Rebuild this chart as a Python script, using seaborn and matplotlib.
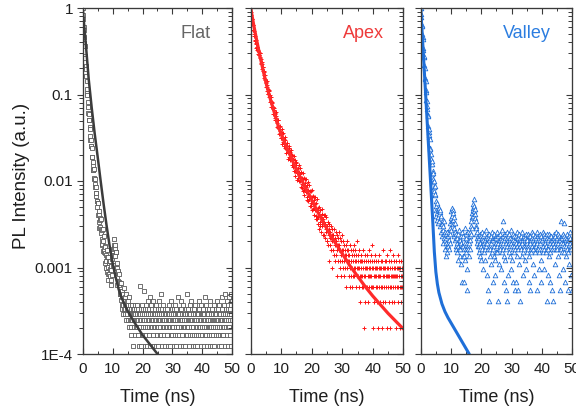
import numpy as np
import pandas as pd
import matplotlib
matplotlib.use("Agg")
import matplotlib.pyplot as plt
import matplotlib.ticker as mticker
import seaborn as sns

# ---------------- data ----------------
BIN_NS = 0.1  # width of one time channel (ns)

# Flat: early decay (log10 intensity, channels 0.0 .. 12.9 ns), then photon counts
flat_decay_log = [
    0.00, -0.08, -0.13, -0.22, -0.25, -0.34, -0.40, -0.44, -0.55, -0.58,
    -0.67, -0.70, -0.79, -0.84, -0.94, -0.98, -1.01, -1.09, -1.14, -1.21,
    -1.23, -1.30, -1.30, -1.38, -1.40, -1.48, -1.53, -1.53, -1.59, -1.60,
    -1.62, -1.72, -1.72, -1.82, -1.78, -1.87, -1.87, -1.86, -1.98, -1.96,
    -2.03, -1.98, -2.07, -2.07, -2.17, -2.14, -2.14, -2.23, -2.23, -2.30,
    -2.26, -2.39, -2.25, -2.39, -2.35, -2.47, -2.54, -2.43, -2.53, -2.45,
    -2.44, -2.60, -2.55, -2.74, -2.57, -2.73, -2.67, -2.56, -2.81, -2.69,
    -2.82, -2.64, -2.80, -2.75, -2.95, -2.83, -2.76, -2.93, -2.86, -3.01,
    -2.88, -3.05, -2.80, -2.99, -2.88, -3.07, -3.15, -2.95, -3.07, -2.92,
    -2.93, -3.10, -3.02, -3.20, -2.98, -3.14, -3.03, -2.85, -3.09, -2.90,
    -2.97, -2.79, -2.86, -2.78, -2.87, -2.74, -2.67, -2.78, -2.74, -2.87,
    -2.82, -3.00, -2.82, -3.00, -2.95, -3.11, -3.20, -3.05, -3.16, -3.04,
    -3.07, -3.20, -3.17, -3.31, -3.18, -3.31, -3.27, -3.18, -3.38, -3.29,
]
flat_tail_counts = [
    11, 8, 13, 9, 7, 12, 9, 10, 8, 14,
    9, 7, 11, 8, 12, 6, 9, 8, 10, 7,
    8, 10, 6, 9, 5, 8, 11, 7, 9, 6,
    6, 8, 5, 4, 7, 9, 6, 3, 8, 7,
    8, 5, 7, 6, 9, 4, 7, 6, 5, 8,
    6, 7, 5, 9, 6, 4, 8, 3, 7, 5,
    7, 6, 15, 5, 8, 3, 6, 4, 9, 7,
    5, 8, 6, 4, 7, 13, 6, 3, 8, 5,
    6, 9, 4, 7, 5, 8, 3, 6, 7, 10,
    4, 6, 8, 5, 11, 7, 3, 6, 9, 5,
    7, 5, 6, 8, 4, 10, 6, 7, 3, 5,
    8, 6, 5, 7, 3, 9, 6, 4, 7, 5,
    6, 3, 8, 5, 7, 6, 10, 4, 6, 8,
    5, 7, 4, 12, 6, 8, 3, 5, 7, 6,
    9, 5, 6, 4, 7, 3, 8, 6, 5, 7,
    6, 4, 8, 5, 6, 7, 3, 9, 5, 6,
    7, 5, 3, 6, 10, 4, 7, 5, 8, 6,
    4, 6, 7, 5, 3, 8, 6, 7, 4, 9,
    6, 5, 8, 3, 7, 6, 4, 11, 5, 7,
    5, 7, 4, 6, 8, 3, 6, 5, 10, 6,
    8, 4, 6, 7, 5, 9, 3, 6, 7, 5,
    6, 7, 3, 5, 8, 4, 6, 12, 5, 7,
    4, 6, 8, 5, 3, 7, 6, 9, 4, 6,
    7, 5, 6, 10, 4, 6, 8, 3, 5, 7,
    5, 8, 4, 6, 7, 3, 9, 6, 5, 4,
    6, 3, 7, 5, 8, 6, 4, 7, 10, 5,
    8, 6, 5, 4, 7, 3, 6, 9, 5, 7,
    4, 7, 6, 8, 3, 5, 7, 6, 4, 11,
    6, 5, 9, 4, 6, 7, 3, 8, 5, 6,
    7, 4, 5, 8, 6, 3, 10, 5, 7, 4,
    5, 8, 6, 3, 7, 5, 4, 6, 9, 6,
    3, 6, 7, 5, 8, 4, 6, 7, 5, 10,
    6, 4, 8, 6, 3, 7, 5, 9, 4, 6,
    7, 5, 3, 6, 8, 11, 4, 6, 5, 7,
    4, 9, 6, 5, 7, 3, 12, 6, 8, 5,
    6, 7, 4, 10, 5, 8, 3, 6, 11, 7,
    5, 8, 6, 4, 12, 7, 3, 9, 6, 10,
]
flat_count_unit = 4.1e-5
flat_fit_t = [0, 1, 2, 3, 4, 5, 6, 7, 8, 9, 10, 11, 12, 13, 15, 17, 20, 22.5, 25]
flat_fit_log = [0, -0.40, -0.82, -1.15, -1.45, -1.72, -2.00, -2.27, -2.52, -2.75,
                -2.95, -3.11, -3.25, -3.35, -3.50, -3.62, -3.78, -3.89, -4.00]

# Apex
apex_decay_log = [
    0.00, -0.05, -0.08, -0.13, -0.13, -0.19, -0.20, -0.20, -0.26, -0.25,
    -0.30, -0.27, -0.32, -0.32, -0.38, -0.37, -0.37, -0.42, -0.41, -0.46,
    -0.45, -0.49, -0.45, -0.50, -0.48, -0.53, -0.54, -0.51, -0.54, -0.52,
    -0.52, -0.58, -0.57, -0.64, -0.59, -0.65, -0.65, -0.62, -0.71, -0.68,
    -0.73, -0.68, -0.74, -0.73, -0.81, -0.78, -0.77, -0.83, -0.82, -0.87,
    -0.85, -0.91, -0.84, -0.91, -0.89, -0.96, -0.99, -0.94, -0.99, -0.95,
    -0.96, -1.03, -1.01, -1.09, -1.03, -1.09, -1.07, -1.03, -1.14, -1.10,
    -1.15, -1.09, -1.15, -1.14, -1.22, -1.18, -1.16, -1.22, -1.21, -1.27,
    -1.22, -1.30, -1.20, -1.29, -1.25, -1.33, -1.37, -1.30, -1.36, -1.30,
    -1.30, -1.39, -1.37, -1.46, -1.37, -1.45, -1.42, -1.36, -1.50, -1.43,
    -1.50, -1.40, -1.49, -1.46, -1.57, -1.50, -1.45, -1.55, -1.51, -1.60,
    -1.53, -1.62, -1.49, -1.59, -1.53, -1.63, -1.68, -1.58, -1.63, -1.56,
    -1.56, -1.67, -1.63, -1.74, -1.62, -1.72, -1.68, -1.60, -1.76, -1.67,
    -1.75, -1.64, -1.74, -1.69, -1.82, -1.74, -1.70, -1.81, -1.75, -1.84,
    -1.76, -1.88, -1.71, -1.83, -1.76, -1.88, -1.94, -1.81, -1.88, -1.78,
    -1.79, -1.91, -1.86, -1.99, -1.85, -1.96, -1.91, -1.82, -2.00, -1.90,
    -2.00, -1.85, -1.96, -1.92, -2.07, -1.96, -1.90, -2.03, -1.97, -2.08,
    -1.98, -2.11, -1.91, -2.05, -1.97, -2.10, -2.16, -2.02, -2.09, -1.98,
    -1.98, -2.13, -2.07, -2.22, -2.05, -2.18, -2.12, -2.01, -2.23, -2.10,
    -2.21, -2.05, -2.17, -2.12, -2.29, -2.17, -2.11, -2.25, -2.18, -2.29,
    -2.18, -2.33, -2.10, -2.27, -2.17, -2.32, -2.39, -2.22, -2.31, -2.18,
    -2.19, -2.34, -2.27, -2.44, -2.26, -2.40, -2.33, -2.21, -2.44, -2.31,
]
apex_tail_counts = [
    22, 16, 19, 25, 14, 20, 17, 23, 15, 19,
    13, 19, 16, 21, 15, 24, 17, 12, 18, 20,
    17, 12, 15, 20, 11, 16, 14, 19, 13, 10,
    15, 10, 13, 17, 9, 12, 14, 6, 16, 11,
    9, 13, 11, 15, 8, 12, 5, 10, 14, 12,
    12, 8, 10, 14, 7, 11, 9, 6, 13, 10,
    7, 10, 4, 12, 8, 9, 11, 6, 13, 8,
    9, 6, 11, 8, 5, 10, 7, 4, 8, 12,
    6, 8, 5, 10, 7, 4, 9, 6, 8, 7,
    5, 9, 7, 3, 8, 6, 10, 5, 7, 6,
    8, 4, 6, 7, 3, 9, 5, 6, 8, 4,
    6, 7, 5, 3, 8, 6, 4, 9, 5, 7,
    4, 6, 8, 5, 7, 3, 6, 5, 10, 4,
    5, 7, 4, 6, 3, 5, 8, 4, 6, 2,
    6, 4, 5, 7, 3, 6, 4, 8, 5, 3,
    4, 1, 6, 5, 2, 7, 4, 3, 5, 6,
    5, 3, 7, 4, 2, 6, 5, 4, 8, 3,
    6, 4, 5, 3, 7, 4, 6, 5, 3, 9,
    3, 5, 1, 6, 4, 2, 5, 7, 4, 3,
    5, 4, 6, 2, 5, 3, 1, 4, 6, 5,
    4, 7, 3, 5, 2, 4, 6, 3, 5, 1,
    6, 3, 5, 4, 8, 2, 4, 5, 3, 6,
    2, 5, 4, 6, 3, 1, 5, 7, 4, 3,
    5, 4, 2, 6, 4, 5, 3, 8, 1, 4,
    3, 6, 4, 5, 2, 4, 7, 3, 5, 4,
    6, 2, 5, 3, 4, 1, 6, 4, 5, 3,
    4, 5, 3, 7, 2, 5, 4, 6, 3, 1,
    5, 3, 6, 4, 2, 5, 4, 3, 6, 4,
]
apex_count_unit = 2.0e-4
apex_fit_t = [0, 1, 2, 3, 4, 5, 6, 7, 8, 9, 10, 12, 14, 16, 18, 20, 22, 24, 26,
              28, 30, 32.5, 35, 37.5, 40, 42.5, 45, 47.5, 50]
apex_fit_log = [0, -0.20, -0.38, -0.55, -0.71, -0.86, -1.00, -1.12, -1.24, -1.36,
                -1.46, -1.63, -1.79, -1.94, -2.08, -2.22, -2.36, -2.49, -2.62,
                -2.73, -2.84, -2.98, -3.10, -3.22, -3.33, -3.43, -3.53, -3.62, -3.71]

# Valley
valley_decay_log = [
    0.00, -0.07, -0.10, -0.20, -0.21, -0.30, -0.33, -0.36, -0.46, -0.49,
    -0.57, -0.56, -0.66, -0.69, -0.81, -0.82, -0.84, -0.95, -0.97, -1.06,
    -1.07, -1.17, -1.13, -1.24, -1.25, -1.36, -1.43, -1.40, -1.49, -1.47,
    -1.51, -1.62, -1.63, -1.74, -1.69, -1.80, -1.80, -1.77, -1.92, -1.88,
    -1.98, -1.91, -2.01, -2.00, -2.12, -2.07, -2.06, -2.16, -2.15, -2.23,
]
valley_tail_counts = [
    38, 29, 34, 26, 41, 31, 24, 35, 28, 33,
    30, 36, 25, 32, 22, 34, 27, 19, 29, 24,
    23, 17, 26, 20, 14, 22, 18, 25, 16, 19,
    15, 12, 18, 14, 10, 16, 13, 19, 11, 14,
    13, 17, 12, 15, 19, 14, 21, 18, 24, 20,
    27, 33, 25, 36, 29, 34, 26, 31, 23, 28,
    21, 17, 24, 15, 19, 13, 18, 12, 16, 14,
    11, 16, 13, 18, 9, 15, 12, 20, 14, 10,
    15, 12, 17, 8, 14, 19, 5, 13, 16, 10,
    13, 17, 10, 5, 12, 21, 14, 9, 16, 12,
    18, 11, 14, 7, 4, 13, 19, 12, 15, 10,
    14, 17, 12, 19, 15, 22, 18, 25, 21, 28,
    31, 36, 29, 40, 34, 45, 33, 38, 30, 35,
    27, 22, 25, 18, 21, 16, 19, 14, 17, 13,
    15, 11, 16, 13, 10, 18, 14, 12, 17, 9,
    13, 16, 12, 19, 14, 7, 17, 15, 11, 14,
    18, 12, 15, 9, 16, 13, 20, 14, 6, 17,
    14, 4, 16, 12, 3, 15, 18, 13, 10, 16,
    12, 17, 14, 8, 15, 19, 11, 5, 16, 12,
    15, 10, 18, 13, 16, 6, 9, 17, 14, 11,
    16, 13, 19, 11, 14, 3, 17, 12, 15, 8,
    13, 18, 12, 15, 7, 16, 14, 20, 11, 15,
    12, 25, 14, 17, 10, 15, 5, 18, 9, 16,
    4, 14, 12, 16, 19, 3, 13, 15, 6, 17,
    14, 11, 18, 13, 15, 10, 16, 7, 20, 14,
    13, 16, 9, 15, 12, 18, 5, 11, 17, 13,
    4, 15, 12, 17, 5, 14, 10, 16, 13, 19,
    12, 16, 4, 14, 18, 8, 15, 3, 13, 16,
    15, 12, 17, 10, 14, 19, 6, 16, 11, 15,
    13, 17, 12, 15, 9, 16, 14, 18, 7, 14,
    16, 11, 15, 13, 18, 12, 17, 5, 10, 15,
    4, 14, 17, 12, 15, 11, 19, 13, 16, 8,
    15, 12, 18, 14, 6, 16, 13, 17, 11, 15,
    13, 16, 12, 19, 14, 4, 15, 12, 17, 7,
    16, 11, 14, 18, 12, 15, 9, 17, 5, 15,
    12, 15, 19, 13, 16, 11, 7, 18, 12, 16,
    14, 17, 11, 15, 13, 3, 16, 12, 18, 6,
    15, 12, 16, 10, 18, 14, 5, 17, 11, 15,
    13, 17, 12, 15, 4, 16, 3, 14, 18, 12,
    16, 13, 15, 8, 17, 14, 19, 12, 15, 13,
    12, 16, 14, 18, 10, 15, 6, 17, 12, 16,
    4, 15, 12, 25, 14, 17, 11, 16, 7, 18,
    14, 11, 17, 13, 24, 15, 5, 16, 10, 15,
    13, 16, 12, 18, 14, 4, 15, 11, 17, 8,
    15, 12, 16, 14, 19, 13, 6, 12, 15, 4,
]
valley_count_unit = 1.37e-4
valley_fit_t = [0, 0.5, 1, 1.5, 2, 2.5, 3, 3.5, 4, 4.5, 5, 5.5, 6, 7, 8, 9, 10, 12, 14, 16]
valley_fit_log = [0, -0.30, -0.61, -0.92, -1.23, -1.54, -1.85, -2.16, -2.48, -2.82,
                  -3.05, -3.19, -3.29, -3.42, -3.51, -3.58, -3.64, -3.76, -3.88, -4.00]

panel_names = ["Flat", "Apex", "Valley"]
x_ticks = [0, 10, 20, 30, 40, 50]
y_ticks = [1e-4, 1e-3, 1e-2, 1e-1, 1]
y_tick_labels = ["1E-4", "0.001", "0.01", "0.1", "1"]


def decay_frame(decay_log, tail_counts, unit):
    inten = [10.0 ** v for v in decay_log] + [c * unit for c in tail_counts]
    t = np.arange(len(inten)) * BIN_NS
    return pd.DataFrame({"t": t, "I": inten})


def fit_frame(ft, flog):
    return pd.DataFrame({"t": ft, "I": [10.0 ** v for v in flog]})


panels = [
    dict(data=decay_frame(flat_decay_log, flat_tail_counts, flat_count_unit),
         fit=fit_frame(flat_fit_t, flat_fit_log),
         marker="s", s=8, edge="#5a5a5a", face="white", mlw=0.6,
         line="#3c3c3c", llw=1.8, tcol="#666666", tx=0.855, ty=0.913),
    dict(data=decay_frame(apex_decay_log, apex_tail_counts, apex_count_unit),
         fit=fit_frame(apex_fit_t, apex_fit_log),
         marker="+", s=10, edge=None, face="#ff1414", mlw=0.7,
         line="#ff2a2a", llw=2.3, tcol="#ee3a3a", tx=0.875, ty=0.913),
    dict(data=decay_frame(valley_decay_log, valley_tail_counts, valley_count_unit),
         fit=fit_frame(valley_fit_t, valley_fit_log),
         marker="^", s=11, edge="#1f6fd8", face="white", mlw=0.6,
         line="#1f6fd8", llw=2.2, tcol="#2b7de0", tx=0.86, ty=0.913),
]

# ---------------- figure ----------------
sns.set_theme(style="ticks")
plt.rcParams["font.family"] = ["Liberation Sans", "DejaVu Sans"]
plt.rcParams["axes.linewidth"] = 0.8

W, H = 576.0, 412.0
top_px, bot_px = 8.0, 354.0
x_edges = [(82.7, 232.3), (250.7, 403.3), (420.7, 572.3)]
spine_col = "#3a3a3a"
text_col = "#1e1e1e"

fig = plt.figure(figsize=(W / 100, H / 100), dpi=100)
fig.patch.set_facecolor("white")

for i, (p, (l, r)) in enumerate(zip(panels, x_edges)):
    ax = fig.add_axes([l / W, 1 - bot_px / H, (r - l) / W, (bot_px - top_px) / H])
    ax.set_facecolor("white")
    ax.set_yscale("log")

    kws = dict(marker=p["marker"], s=p["s"], linewidth=p["mlw"], zorder=2)
    if p["edge"] is None:
        kws["color"] = p["face"]
    else:
        kws["color"] = p["edge"]
        kws["facecolor"] = p["face"]
        kws["edgecolor"] = p["edge"]
    sns.scatterplot(data=p["data"], x="t", y="I", ax=ax, legend=False, **kws)
    sns.lineplot(data=p["fit"], x="t", y="I", ax=ax, color=p["line"], lw=p["llw"],
                 sort=False, estimator=None, legend=False, zorder=3)

    ax.set_xlim(0, 50)
    ax.set_ylim(1e-4, 1)
    ax.xaxis.set_major_locator(mticker.FixedLocator(x_ticks))
    ax.xaxis.set_minor_locator(mticker.MultipleLocator(5))
    ax.yaxis.set_major_locator(mticker.FixedLocator(y_ticks))
    ax.yaxis.set_minor_locator(mticker.LogLocator(base=10.0, subs=np.arange(2, 10), numticks=20))
    ax.yaxis.set_minor_formatter(mticker.NullFormatter())
    if i == 0:
        ax.yaxis.set_major_formatter(mticker.FixedFormatter(y_tick_labels))
    else:
        ax.yaxis.set_major_formatter(mticker.NullFormatter())
    ax.set_xticklabels([str(v) for v in x_ticks])

    ax.tick_params(axis="y", which="major", direction="out", length=4.5, width=0.8,
                   pad=2.5, labelsize=11, left=True, right=False, colors=spine_col,
                   labelcolor=text_col)
    ax.tick_params(axis="y", which="minor", direction="out", length=2.8, width=0.7,
                   left=True, right=False, colors=spine_col)
    ax.tick_params(axis="x", which="major", direction="in", length=4, width=0.8,
                   pad=6, labelsize=11, bottom=True, top=False, colors=spine_col,
                   labelcolor=text_col)
    ax.tick_params(axis="x", which="minor", direction="in", length=2.5, width=0.7,
                   bottom=True, top=False, colors=spine_col)
    for sp in ax.spines.values():
        sp.set_visible(True)
        sp.set_color(spine_col)
        sp.set_linewidth(0.8)

    # right-hand ticks (pointing inward)
    axr = ax.twinx()
    axr.set_yscale("log")
    axr.set_ylim(1e-4, 1)
    axr.yaxis.set_major_locator(mticker.FixedLocator(y_ticks))
    axr.yaxis.set_minor_locator(mticker.LogLocator(base=10.0, subs=np.arange(2, 10), numticks=20))
    axr.yaxis.set_major_formatter(mticker.NullFormatter())
    axr.yaxis.set_minor_formatter(mticker.NullFormatter())
    axr.tick_params(axis="y", which="major", direction="in", length=4.5, width=0.8,
                    left=False, right=True, colors=spine_col)
    axr.tick_params(axis="y", which="minor", direction="in", length=2.8, width=0.7,
                    left=False, right=True, colors=spine_col)
    for sp in axr.spines.values():
        sp.set_color(spine_col)
        sp.set_linewidth(0.8)

    # top ticks (pointing inward)
    axt = ax.twiny()
    axt.set_xlim(0, 50)
    axt.xaxis.set_major_locator(mticker.FixedLocator(x_ticks))
    axt.xaxis.set_minor_locator(mticker.MultipleLocator(5))
    axt.xaxis.set_major_formatter(mticker.NullFormatter())
    axt.tick_params(axis="x", which="major", direction="in", length=4.5, width=0.8,
                    top=True, bottom=False, colors=spine_col)
    axt.tick_params(axis="x", which="minor", direction="in", length=2.5, width=0.7,
                    top=True, bottom=False, colors=spine_col)
    for sp in axt.spines.values():
        sp.set_color(spine_col)
        sp.set_linewidth(0.8)

    ax.set_xlabel("Time (ns)", fontsize=13, color=text_col)
    ax.xaxis.set_label_coords(0.5, -(402 - bot_px) / (bot_px - top_px))
    ax.xaxis.label.set_va("baseline")
    if i == 0:
        ax.set_ylabel("PL Intensity (a.u.)", fontsize=13.5, color=text_col)
        ax.yaxis.set_label_coords((21 - l) / (r - l), (bot_px - 176) / (bot_px - top_px))
        ax.yaxis.label.set_va("center")
    else:
        ax.set_ylabel("")

    ax.text(p["tx"], p["ty"], panel_names[i], transform=ax.transAxes, ha="right",
            va="baseline", fontsize=13, color=p["tcol"], zorder=5)

fig.savefig("out.png", dpi=100, facecolor="white")
